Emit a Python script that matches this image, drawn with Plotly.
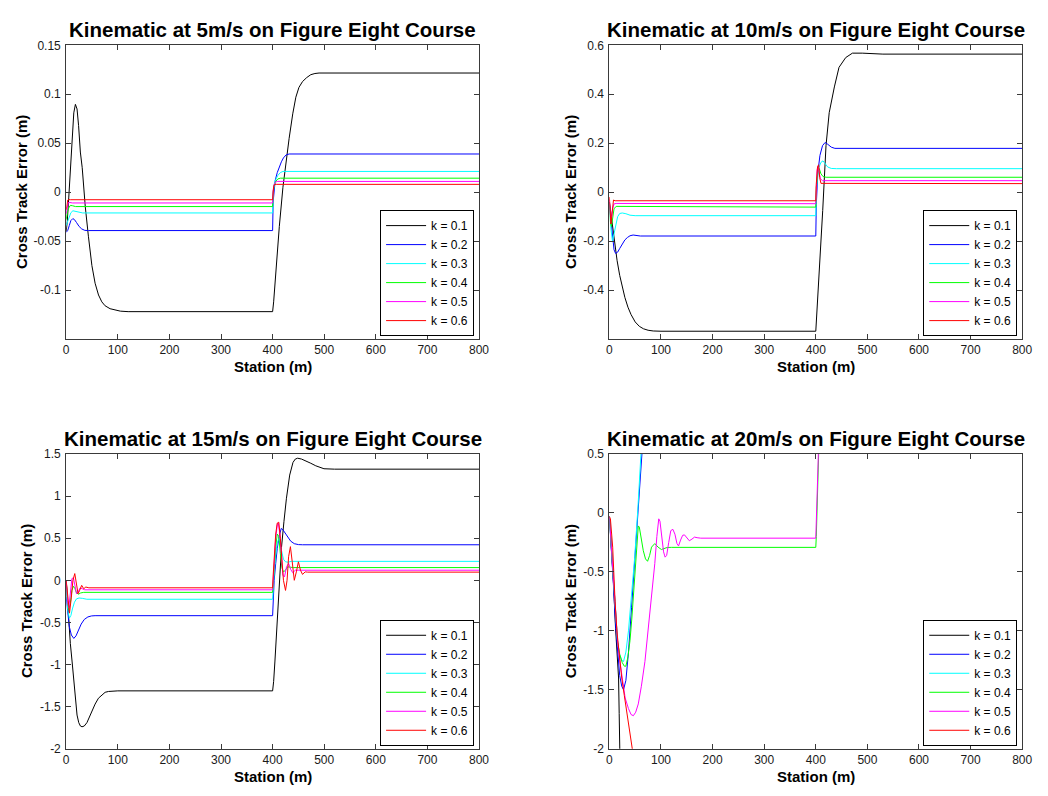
import plotly.graph_objects as go

# ---------------- data ----------------
K_LABELS = ["k = 0.1", "k = 0.2", "k = 0.3", "k = 0.4", "k = 0.5", "k = 0.6"]
K_COLORS = ["#000000", "#0000FF", "#00FFFF", "#00FF00", "#FF00FF", "#FF0000"]
X_TICKS = [0, 100, 200, 300, 400, 500, 600, 700, 800]

# ---- 5 m/s ----
V5_X1 = [0, 2, 5, 8.3, 11, 14.7, 17.8, 21, 24, 27.4, 31, 37, 43, 49.8, 56, 62.6, 69, 75.3, 85, 94.4, 105, 120,
         400, 402, 407, 413, 420, 426, 432, 439, 445, 451, 458, 466, 474, 482, 490, 800]
V5_Y1 = [-0.04, -0.03, -0.005, 0.025, 0.058, 0.081, 0.0897, 0.085, 0.068, 0.041, 0.025, -0.015, -0.045, -0.075,
         -0.093, -0.105, -0.112, -0.116, -0.119, -0.120, -0.1215, -0.122,
         -0.122, -0.112, -0.075, -0.035, 0.005, 0.032, 0.055, 0.08, 0.097, 0.107, 0.113, 0.117, 0.120, 0.1212,
         0.1217, 0.1217]
V5_X2 = [0, 3, 6, 9, 12.8, 16, 20, 25, 30, 36, 43, 400, 401, 403, 405, 409, 413, 417, 421, 426, 432, 800]
V5_Y2 = [-0.041, -0.039, -0.034, -0.029, -0.027, -0.028, -0.031, -0.035, -0.0375, -0.039, -0.0392, -0.0392,
         -0.01, 0.004, 0.012, 0.02, 0.026, 0.031, 0.035, 0.038, 0.039, 0.039]
V5_X3 = [0, 3, 6, 9, 13, 18, 24, 32, 400, 401, 403, 406, 410, 415, 420, 800]
V5_Y3 = [-0.034, -0.029, -0.024, -0.021, -0.019, -0.0195, -0.0205, -0.0212, -0.0212, -0.002, 0.008, 0.013,
         0.017, 0.02, 0.0212, 0.0212]
V5_X4 = [0, 2, 5, 8, 12, 18, 400, 401, 403, 406, 410, 415, 800]
V5_Y4 = [-0.028, -0.021, -0.016, -0.0135, -0.0138, -0.0147, -0.0147, 0.0, 0.007, 0.011, 0.0135, 0.0143, 0.0143]
V5_X5 = [0, 2, 4, 7, 12, 400, 401, 403, 406, 410, 800]
V5_Y5 = [-0.022, -0.014, -0.0105, -0.0105, -0.011, -0.011, 0.002, 0.008, 0.0105, 0.011, 0.011]
V5_X6 = [0, 1.5, 3, 5, 8, 400, 401, 402, 404, 407, 800]
V5_Y6 = [-0.018, -0.011, -0.008, -0.0075, -0.0077, -0.0077, 0.002, 0.006, 0.0078, 0.008, 0.008]

# ---- 10 m/s ----
V10_X1 = [0, 3, 6, 10, 15, 20, 25, 30, 36, 42, 50, 58, 66, 75, 85, 100, 400, 402, 407, 413.4, 419.8, 426, 436,
          445, 458, 471, 490, 510, 530, 800]
V10_Y1 = [-0.04, -0.09, -0.15, -0.21, -0.28, -0.34, -0.39, -0.43, -0.47, -0.5, -0.53, -0.548, -0.558, -0.564,
          -0.567, -0.568, -0.568, -0.5, -0.34, -0.075, 0.19, 0.325, 0.43, 0.51, 0.55, 0.568, 0.568, 0.566, 0.564,
          0.564]
V10_X2 = [0, 3, 6, 9, 12, 16, 20, 25, 30, 35, 40, 46, 52, 60, 400, 401, 404, 408, 413, 418, 423, 430, 437, 800]
V10_Y2 = [-0.05, -0.12, -0.19, -0.235, -0.25, -0.245, -0.23, -0.21, -0.195, -0.185, -0.178, -0.175, -0.177,
          -0.179, -0.179, -0.05, 0.08, 0.15, 0.19, 0.203, 0.196, 0.184, 0.179, 0.179]
V10_X3 = [0, 3, 6, 9, 12, 16, 20, 25, 32, 40, 50, 400, 401, 403, 406, 410, 414, 418, 423, 430, 440, 800]
V10_Y3 = [-0.05, -0.15, -0.2, -0.17, -0.13, -0.1, -0.087, -0.085, -0.088, -0.094, -0.096, -0.096, 0.0, 0.06,
          0.1, 0.122, 0.128, 0.115, 0.103, 0.097, 0.096, 0.096]
V10_X4 = [0, 2, 4, 6, 9, 13, 18, 25, 400, 401, 403, 405, 407, 410, 414, 420, 800]
V10_Y4 = [-0.04, -0.12, -0.14, -0.1, -0.068, -0.058, -0.058, -0.061, -0.061, 0.02, 0.08, 0.1, 0.095, 0.075,
          0.064, 0.061, 0.061]
V10_X5 = [0, 2, 4, 6, 9, 13, 400, 401, 402.5, 404, 406, 409, 413, 800]
V10_Y5 = [-0.03, -0.1, -0.11, -0.07, -0.048, -0.046, -0.047, 0.03, 0.09, 0.105, 0.085, 0.055, 0.047, 0.047]
V10_X6 = [0, 1.5, 3, 4.5, 6, 8, 11, 400, 400.8, 402, 403.5, 405.7, 407.5, 410, 800]
V10_Y6 = [-0.02, -0.09, -0.13, -0.1, -0.05, -0.032, -0.035, -0.035, 0.03, 0.08, 0.105, 0.112, 0.06, 0.036, 0.035]

# ---- 15 m/s ----
V15_X1 = [0, 2, 5, 8, 11.5, 15, 18, 21, 24.3, 27.5, 30.6, 35, 40.2, 45, 49.8, 56, 62.5, 69, 75.4, 82, 88, 100,
          400, 402, 404.4, 407.5, 410.8, 414, 417.2, 422, 426.8, 433.1, 439.5, 444, 448.5, 456, 464.5, 474, 483.6,
          492, 499.5, 520, 800]
V15_Y1 = [0, -0.2, -0.5, -0.75, -0.97, -1.22, -1.45, -1.6, -1.69, -1.73, -1.74, -1.73, -1.69, -1.62, -1.55,
          -1.47, -1.40, -1.36, -1.33, -1.32, -1.315, -1.313, -1.313, -1.2, -0.97, -0.64, -0.31, 0.04, 0.39, 0.7,
          0.975, 1.25, 1.40, 1.44, 1.45, 1.44, 1.42, 1.39, 1.36, 1.34, 1.325, 1.32, 1.32]
V15_X2 = [0, 3, 6, 10, 14.7, 19, 24, 29, 35, 42, 49, 56, 400, 401, 403, 406, 409, 413, 416.7, 420, 424, 429.5,
          435, 442, 450, 458, 800]
V15_Y2 = [-0.2, -0.4, -0.55, -0.65, -0.69, -0.66, -0.59, -0.52, -0.465, -0.435, -0.423, -0.42, -0.42, -0.25,
          0.0, 0.2, 0.38, 0.53, 0.616, 0.6, 0.56, 0.51, 0.465, 0.435, 0.424, 0.422, 0.422]
V15_X3 = [0, 3, 6, 9, 12, 16, 20, 25, 32, 40, 400, 401, 403, 406, 409, 412, 415, 418, 421, 425, 430, 436, 800]
V15_Y3 = [-0.1, -0.35, -0.45, -0.42, -0.34, -0.26, -0.22, -0.21, -0.215, -0.225, -0.225, -0.1, 0.1, 0.3, 0.44,
          0.5, 0.42, 0.31, 0.25, 0.22, 0.215, 0.225, 0.225]
V15_X4 = [0, 2.5, 5, 8, 11, 14, 17, 20, 24, 28, 34, 400, 401, 403, 406, 409, 412, 415, 418, 421, 425, 429, 434,
          440, 800]
V15_Y4 = [0, -0.25, -0.35, -0.27, -0.12, -0.07, -0.1, -0.15, -0.165, -0.15, -0.143, -0.143, -0.05, 0.15, 0.4,
          0.55, 0.52, 0.32, 0.15, 0.1, 0.12, 0.16, 0.155, 0.151, 0.151]
V15_X5 = [0, 2.5, 5, 8, 11, 14, 17, 20, 23, 27, 31, 36, 400, 401, 403, 406, 409, 411, 414, 417, 420, 423, 427,
          431, 435, 439, 444, 450, 800]
V15_Y5 = [0, -0.25, -0.33, -0.15, 0.02, 0.03, -0.08, -0.16, -0.14, -0.09, -0.1, -0.113, -0.113, 0.0, 0.25, 0.5,
          0.66, 0.68, 0.55, 0.25, 0.06, 0.04, 0.16, 0.2, 0.13, 0.09, 0.12, 0.12, 0.12]
V15_X6 = [0, 3, 6.4, 10, 13, 16.6, 20, 23, 26, 30, 34, 38, 44, 400, 401, 403, 406, 409, 412, 415, 418, 421, 425,
          428, 431, 434.5, 438, 442, 446, 450, 454, 458, 463, 468, 800]
V15_Y6 = [0, -0.2, -0.39, -0.2, 0.0, 0.08, -0.05, -0.16, -0.12, -0.06, -0.1, -0.08, -0.089, -0.089, 0.05, 0.3,
          0.55, 0.68, 0.69, 0.5, 0.2, 0.0, -0.12, 0.0, 0.28, 0.40, 0.22, 0.0, 0.1, 0.22, 0.12, 0.07, 0.1, 0.097,
          0.097]

# ---- 20 m/s ----
V20_X1 = [0, 4, 8, 12, 15, 17.8, 19, 19.8, 21, 24]
V20_Y1 = [-0.03, -0.3, -0.6, -0.98, -1.22, -1.4, -1.7, -1.97, -2.3, -3.0]
V20_X2 = [0, 4, 8, 12, 16, 20, 24, 27.4, 32, 37, 43, 49.8, 56, 63.7, 70, 80]
V20_Y2 = [-0.03, -0.3, -0.62, -0.95, -1.2, -1.38, -1.47, -1.5, -1.42, -1.18, -0.8, -0.375, 0.01, 0.5, 0.95, 1.7]
V20_X3 = [0, 4, 8, 12, 16, 20, 24, 27.4, 32, 37, 43, 49, 55, 61, 68, 78]
V20_Y3 = [-0.03, -0.3, -0.62, -0.92, -1.1, -1.2, -1.25, -1.26, -1.18, -1.0, -0.72, -0.38, 0.02, 0.5, 1.05, 1.8]
V20_X4 = [0, 4, 8, 12, 16, 20, 25, 29, 32, 36, 40, 43.4, 47, 51, 54, 56, 58, 61, 65.7, 70, 74, 78, 81.7, 88,
          94.4, 100.8, 106, 112, 120, 400, 401, 403, 405, 407, 409, 412]
V20_Y4 = [-0.03, -0.3, -0.62, -0.92, -1.1, -1.2, -1.27, -1.3, -1.3, -1.22, -1.08, -0.9, -0.68, -0.43, -0.22,
          -0.11, -0.12, -0.2, -0.32, -0.39, -0.41, -0.36, -0.29, -0.26, -0.29, -0.31, -0.3, -0.293, -0.292,
          -0.292, -0.2, 0.05, 0.3, 0.55, 0.9, 1.5]
V20_X5 = [0, 4, 8, 12, 16, 20, 24, 27, 30.6, 37, 42, 46.5, 51, 56, 62, 68.9, 75, 81.7, 88, 92, 95.7, 98, 101,
          105, 108, 111, 115, 119, 123, 127, 131, 134, 138, 142, 145.5, 150, 155, 160, 165, 170, 177,
          400, 401, 403, 405, 407, 409, 412]
V20_Y5 = [-0.03, -0.3, -0.62, -0.92, -1.1, -1.25, -1.38, -1.47, -1.57, -1.66, -1.71, -1.72, -1.69, -1.62,
          -1.47, -1.26, -1.0, -0.71, -0.43, -0.2, -0.05, -0.07, -0.2, -0.33, -0.375, -0.36, -0.25, -0.15, -0.139,
          -0.18, -0.26, -0.28, -0.23, -0.19, -0.186, -0.215, -0.236, -0.222, -0.205, -0.21, -0.214,
          -0.214, -0.1, 0.1, 0.3, 0.5, 0.8, 1.5]
V20_X6 = [0, 2, 6.4, 8, 11, 14.7, 19, 24, 29, 33.8, 39, 44.6, 50, 58]
V20_Y6 = [-0.03, -0.05, -0.29, -0.46, -0.75, -1.01, -1.22, -1.40, -1.55, -1.68, -1.83, -1.99, -2.15, -2.4]

TITLES = ["Kinematic at 5m/s on Figure Eight Course", "Kinematic at 10m/s on Figure Eight Course",
          "Kinematic at 15m/s on Figure Eight Course", "Kinematic at 20m/s on Figure Eight Course"]
Y_RANGES = [[-0.15, 0.15], [-0.6, 0.6], [-2, 1.5], [-2, 0.5]]
Y_TICKVALS = [[0.15, 0.1, 0.05, 0, -0.05, -0.1],
              [0.6, 0.4, 0.2, 0, -0.2, -0.4],
              [1.5, 1, 0.5, 0, -0.5, -1, -1.5, -2],
              [0.5, 0, -0.5, -1, -1.5, -2]]
Y_TICKTEXT = [["0.15", "0.1", "0.05", "0", "-0.05", "-0.1"],
              ["0.6", "0.4", "0.2", "0", "-0.2", "-0.4"],
              ["1.5", "1", "0.5", "0", "-0.5", "-1", "-1.5", "-2"],
              ["0.5", "0", "-0.5", "-1", "-1.5", "-2"]]

PANELS = [
    [(V5_X1, V5_Y1), (V5_X2, V5_Y2), (V5_X3, V5_Y3), (V5_X4, V5_Y4), (V5_X5, V5_Y5), (V5_X6, V5_Y6)],
    [(V10_X1, V10_Y1), (V10_X2, V10_Y2), (V10_X3, V10_Y3), (V10_X4, V10_Y4), (V10_X5, V10_Y5), (V10_X6, V10_Y6)],
    [(V15_X1, V15_Y1), (V15_X2, V15_Y2), (V15_X3, V15_Y3), (V15_X4, V15_Y4), (V15_X5, V15_Y5), (V15_X6, V15_Y6)],
    [(V20_X1, V20_Y1), (V20_X2, V20_Y2), (V20_X3, V20_Y3), (V20_X4, V20_Y4), (V20_X5, V20_Y5), (V20_X6, V20_Y6)],
]

# ---------------- layout geometry ----------------
W, H = 1048, 796
FONT = "Liberation Sans, Arial, Helvetica, sans-serif"
AX_COL = "#3a3a3a"
# plot areas in pixels: (left, right, top, bottom)
BOXES = [(64, 482, 39, 338), (614, 1032, 39, 338), (64, 482, 455, 755), (614, 1032, 455, 755)]


def px(x):
    return x / W


def py(y):
    return 1 - y / H


fig = go.Figure()
annotations = []
for p in range(4):
    sfx = "" if p == 0 else str(p + 1)
    legname = "legend" + sfx
    for i, (xs, ys) in enumerate(PANELS[p]):
        fig.add_trace(go.Scatter(
            x=xs, y=ys, mode="lines", name=K_LABELS[i],
            line=dict(color=K_COLORS[i], width=1),
            xaxis="x" + sfx, yaxis="y" + sfx, legend=legname, showlegend=True,
            hoverinfo="skip"))
    l, r, t, b = BOXES[p]
    common = dict(showline=True, linecolor=AX_COL, linewidth=1, mirror="ticks", ticks="inside",
                  ticklen=5, tickcolor=AX_COL, showgrid=False, zeroline=False,
                  tickfont=dict(family=FONT, size=12, color="#1a1a1a"))
    fig.update_layout(**{
        "xaxis" + sfx: dict(domain=[px(l), px(r)], anchor="y" + sfx, range=[0, 800], tickvals=X_TICKS,
                            ticktext=[str(v) for v in X_TICKS], **common),
        "yaxis" + sfx: dict(domain=[py(b), py(t)], anchor="x" + sfx, range=Y_RANGES[p],
                            tickvals=Y_TICKVALS[p], ticktext=Y_TICKTEXT[p], ticklabelstandoff=2, **common),
        legname: dict(x=px(r - 5), y=py(b - 3), xanchor="right", yanchor="bottom",
                      bgcolor="white", bordercolor="#000000", borderwidth=1, itemwidth=40,
                      font=dict(family=FONT, size=12, color="#000000"),
                      tracegroupgap=0, itemclick=False, itemdoubleclick=False),
    })
    cx = px((l + r) / 2)
    annotations.append(dict(text="<b>" + TITLES[p] + "</b>", x=cx, y=py(t - 16), xref="paper",
                            yref="paper", xanchor="center", yanchor="middle", showarrow=False,
                            font=dict(family=FONT, size=20.5, color="#000000")))
    annotations.append(dict(text="<b>Station (m)</b>", x=cx, y=py(b + 28), xref="paper",
                            yref="paper", xanchor="center", yanchor="middle", showarrow=False,
                            font=dict(family=FONT, size=15, color="#000000")))
    ylab_x = [18, 574, 24, 574][p]
    annotations.append(dict(text="<b>Cross Track Error (m)</b>", x=px(ylab_x), y=py((t + b) / 2),
                            xref="paper", yref="paper", xanchor="center", yanchor="middle",
                            textangle=-90, showarrow=False,
                            font=dict(family=FONT, size=15, color="#000000")))

fig.update_layout(width=W, height=H, margin=dict(l=0, r=0, t=0, b=0),
                  paper_bgcolor="white", plot_bgcolor="white",
                  font=dict(family=FONT, size=12, color="#000000"),
                  annotations=annotations)

fig.write_html("out.html", include_plotlyjs=True, config={"displayModeBar": False})
